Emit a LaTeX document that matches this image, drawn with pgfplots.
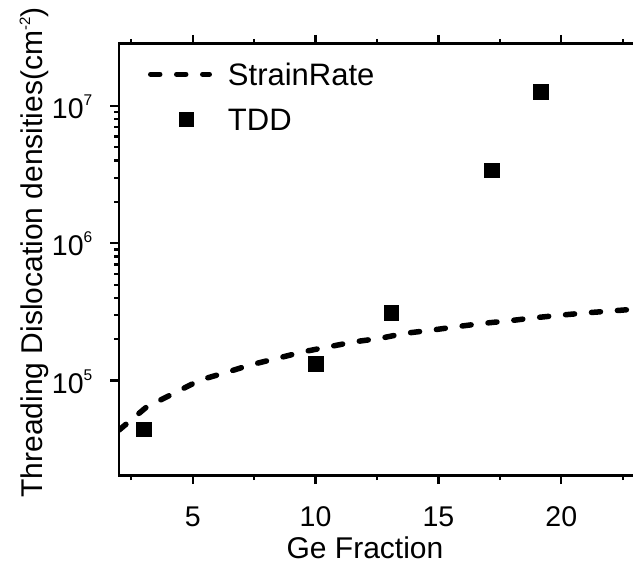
\documentclass[border=0pt]{standalone}
\usepackage{pgfplots}
\pgfplotsset{compat=1.18}
\usepackage{fontspec}
\setmainfont{Liberation Sans}
\newcommand{\ep}[1]{10\raisebox{13bp}{\fontsize{15.5bp}{15.5bp}\selectfont #1}}
\pgfplotsset{
  legline/.style={legend image code/.code={\path[draw=none,fill=none] (0bp,-5bp) rectangle (64bp,5bp); \draw[##1] (2.75bp,0bp) -- (61.25bp,0bp);}},
  legmark/.style={legend image code/.code={\path[draw=none,fill=none] (0bp,-5bp) rectangle (64bp,5bp); \draw[##1] plot coordinates {(38bp,0bp)};}},
}
\begin{document}
\begin{tikzpicture}
\begin{axis}[
  at={(0,0)}, anchor=south west,
  scale only axis, width=516bp, height=432.4bp,
  xmin=2, xmax=23, ymode=log, ymin=2.03e4, ymax=2.86e7,
  xtick={5,10,15,20}, minor xtick={2.5,7.5,12.5,17.5,22.5},
  ytick={1e5,1e6,1e7}, yticklabels={\ep{5},\ep{6},\ep{7}},
  tick align=outside, major tick length=8.5bp, minor tick length=4.5bp,
  every tick/.style={black, line width=2.2bp},
  axis line style={line width=2.8bp},
  /pgf/number format/assume math mode=true,
  tick label style={font=\fontsize{28.5bp}{30bp}\selectfont},
  xticklabel style={anchor=base, inner sep=0pt, yshift=-42.5bp},
  yticklabel style={anchor=base east, inner sep=0pt, xshift=-18bp, yshift=-12.5bp},
  label style={font=\fontsize{30bp}{30bp}\selectfont},
  xlabel={Ge Fraction},
  ylabel={Threading Dislocation densities(cm\raisebox{12bp}{\fontsize{15bp}{15bp}\selectfont -2})},
  xlabel style={at={(axis description cs:0.4767,-0.1926)}, anchor=base, inner sep=0pt},
  ylabel style={at={(axis description cs:-0.1492,0.516)}, anchor=base, inner sep=0pt},
  legend style={at={(axis description cs:0.0562,0.9537)}, anchor=north west, draw=none, fill=none,
    inner sep=0pt, outer sep=0pt, row sep=23bp,
    font=\fontsize{31bp}{31bp}\selectfont,
    nodes={inner sep=0pt, text height=22bp, text depth=0pt},
    /tikz/every odd column/.append style={column sep=16bp}},
  legend cell align=left,
]
\addplot[black, line width=5.5bp, dash pattern=on 9bp off 17bp, line cap=round, mark=none, legline]
coordinates {
(2.0,4.36e4) (3.13,6.44e4) (4.35,8.28e4) (5.30,1.01e5) (6.32,1.14e5) (7.34,1.30e5)
(8.42,1.45e5) (9.49,1.62e5) (10.51,1.76e5) (11.61,1.92e5) (12.62,2.03e5) (13.64,2.21e5)
(14.73,2.33e5) (15.74,2.47e5) (16.81,2.61e5) (17.91,2.73e5) (18.93,2.87e5) (20.01,3.00e5)
(21.08,3.12e5) (22.10,3.22e5) (22.86,3.30e5) (23.0,3.31e5)
};
\addlegendentry{StrainRate}
\addplot[only marks, mark=square*, mark size=7.25bp, black, legmark]
coordinates {
(3,4.44e4) (10,1.33e5) (13.07,3.12e5) (17.17,3.41e6) (19.16,1.27e7)
};
\addlegendentry{TDD}
\end{axis}
\pgfresetboundingbox
\useasboundingbox (-119bp,-89.3bp) rectangle (514bp,475.7bp);
\end{tikzpicture}
\end{document}
